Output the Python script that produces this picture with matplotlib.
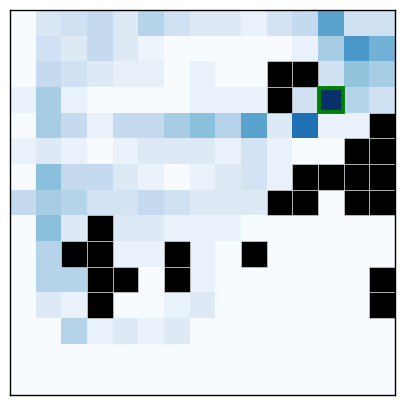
import numpy as np
import matplotlib
matplotlib.use("Agg")
import matplotlib.pyplot as plt
from matplotlib.patches import Rectangle

# visitation heat values (row 0 = top), 15x15 grid
values = [
    [0.00, 0.15, 0.20, 0.25, 0.13, 0.30, 0.20, 0.13, 0.13, 0.07, 0.18, 0.25, 0.55, 0.20, 0.20],
    [0.00, 0.20, 0.13, 0.25, 0.13, 0.05, 0.00, 0.00, 0.00, 0.00, 0.00, 0.07, 0.35, 0.60, 0.48],
    [0.00, 0.25, 0.20, 0.13, 0.08, 0.08, 0.00, 0.07, 0.00, 0.00, 0.00, 0.00, 0.20, 0.40, 0.35],
    [0.07, 0.35, 0.07, 0.00, 0.00, 0.00, 0.00, 0.07, 0.07, 0.07, 0.00, 0.20, 1.00, 0.30, 0.20],
    [0.00, 0.35, 0.25, 0.07, 0.25, 0.25, 0.35, 0.42, 0.30, 0.55, 0.13, 0.75, 0.07, 0.07, 0.00],
    [0.07, 0.13, 0.07, 0.00, 0.07, 0.13, 0.13, 0.13, 0.07, 0.18, 0.07, 0.00, 0.00, 0.00, 0.00],
    [0.00, 0.42, 0.25, 0.25, 0.13, 0.07, 0.00, 0.07, 0.13, 0.18, 0.07, 0.00, 0.00, 0.00, 0.00],
    [0.25, 0.35, 0.30, 0.18, 0.18, 0.25, 0.20, 0.13, 0.13, 0.13, 0.00, 0.00, 0.00, 0.00, 0.00],
    [0.00, 0.42, 0.13, 0.00, 0.13, 0.13, 0.07, 0.07, 0.07, 0.00, 0.00, 0.00, 0.00, 0.00, 0.00],
    [0.00, 0.30, 0.00, 0.00, 0.07, 0.07, 0.00, 0.07, 0.00, 0.00, 0.00, 0.00, 0.00, 0.00, 0.00],
    [0.00, 0.30, 0.30, 0.00, 0.00, 0.00, 0.00, 0.07, 0.00, 0.00, 0.00, 0.00, 0.00, 0.00, 0.00],
    [0.00, 0.13, 0.07, 0.00, 0.00, 0.00, 0.07, 0.13, 0.00, 0.00, 0.00, 0.00, 0.00, 0.00, 0.00],
    [0.00, 0.00, 0.30, 0.07, 0.13, 0.07, 0.13, 0.00, 0.00, 0.00, 0.00, 0.00, 0.00, 0.00, 0.00],
    [0.00] * 15,
    [0.00] * 15,
]

# wall cells (col, row)
walls = [
    (10, 2), (11, 2), (10, 3),
    (14, 4),
    (13, 5), (14, 5),
    (11, 6), (12, 6), (13, 6), (14, 6),
    (10, 7), (11, 7), (13, 7), (14, 7),
    (3, 8),
    (2, 9), (3, 9), (6, 9), (9, 9),
    (3, 10), (4, 10), (6, 10), (14, 10),
    (3, 11), (14, 11),
]

agent = (12, 3)

data = np.array(values)
fig = plt.figure(figsize=(4.05, 4.05), dpi=100)
ax = fig.add_axes([10 / 405, 10 / 405, 385 / 405, 385 / 405])
ax.imshow(data, cmap="Blues", vmin=0, vmax=1, interpolation="nearest")

for (c, r) in walls:
    ax.add_patch(Rectangle((c - 0.5, r - 0.5), 1, 1, facecolor="black",
                           edgecolor="#d0d0d0", linewidth=0.5))

ax.add_patch(Rectangle((agent[0] - 0.5 + 0.04, agent[1] - 0.5 + 0.04), 0.92, 0.92,
                       facecolor="none", edgecolor="green", linewidth=2.8))

ax.set_xlim(-0.5, 14.5)
ax.set_ylim(14.5, -0.5)
ax.set_xticks([])
ax.set_yticks([])
for s in ax.spines.values():
    s.set_linewidth(1.0)

fig.savefig("out.png", dpi=100)
